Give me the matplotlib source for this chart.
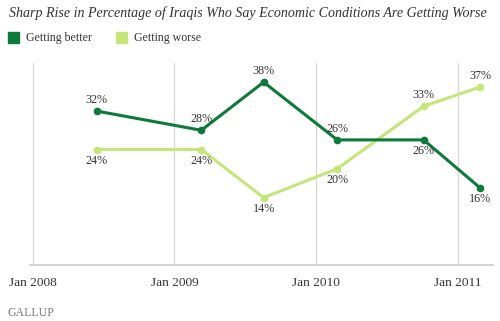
import matplotlib
matplotlib.use("Agg")
import matplotlib.pyplot as plt

# Survey dates (decimal years) and percentages
dates = [2008.45, 2009.19, 2009.63, 2010.15, 2010.76, 2011.16]
better = [32, 28, 38, 26, 26, 16]
worse = [24, 24, 14, 20, 33, 37]
tick_years = [2008, 2009, 2010, 2011]
tick_labels = ["Jan 2008", "Jan 2009", "Jan 2010", "Jan 2011"]

# label placement: +1 above the point, -1 below
better_side = [1, 1, 1, 1, -1, -1]
worse_side = [-1, -1, -1, -1, 1, 1]

DARK = "#0c7a38"
LIGHT = "#c3e57a"
TEXT = "#333333"
SERIF = ["Liberation Serif", "DejaVu Serif"]

fig = plt.figure(figsize=(5.0, 3.21), dpi=100)
fig.patch.set_facecolor("white")
ax = fig.add_axes([0.06, 0.1745, 0.926, 0.6295])
ax.set_xlim(2007.98, 2011.25)
ax.set_ylim(0, 42)

for s in ["top", "right", "left"]:
    ax.spines[s].set_visible(False)
ax.spines["bottom"].set_color("#cccccc")
ax.spines["bottom"].set_linewidth(1.2)

ax.set_yticks([])
ax.set_xticks(tick_years)
ax.set_xticklabels(tick_labels, fontsize=9.6, color=TEXT, family=SERIF)
ax.tick_params(axis="x", length=0, pad=9)
for yr in tick_years:
    ax.axvline(yr, color="#d6d6d6", lw=0.9, zorder=0)

ax.plot(dates, better, color=DARK, lw=2.2, marker="o", ms=4.5, zorder=3)
ax.plot(dates, worse, color=LIGHT, lw=2.2, marker="o", ms=4.5, zorder=2)

for x, v, s in zip(dates, better, better_side):
    ax.annotate(f"{v}%", (x, v), xytext=(0, 11 * s), textcoords="offset pixels",
                ha="center", va="center", fontsize=8.7, color=TEXT, family=SERIF)
for x, v, s in zip(dates, worse, worse_side):
    ax.annotate(f"{v}%", (x, v), xytext=(0, 11 * s), textcoords="offset pixels",
                ha="center", va="center", fontsize=8.7, color=TEXT, family=SERIF)

fig.text(0.018, 1 - 13.5 / 321,
         "Sharp Rise in Percentage of Iraqis Who Say Economic Conditions Are Getting Worse",
         fontsize=10.1, style="italic", color=TEXT, family=SERIF, va="center")

# legend
fig.patches.append(plt.Rectangle((8 / 500, 1 - 43 / 321), 11 / 500, 11 / 321,
                                 transform=fig.transFigure, color=DARK))
fig.text(26 / 500, 1 - 37.5 / 321, "Getting better", fontsize=8.6, color=TEXT,
         family=SERIF, va="center")
fig.patches.append(plt.Rectangle((116 / 500, 1 - 43 / 321), 11 / 500, 11 / 321,
                                 transform=fig.transFigure, color=LIGHT))
fig.text(134 / 500, 1 - 37.5 / 321, "Getting worse", fontsize=8.6, color=TEXT,
         family=SERIF, va="center")

fig.text(7 / 500, 1 - 313 / 321, "GALLUP", fontsize=8.6, color="#777777",
         family=SERIF, va="center")

fig.savefig("out.png", dpi=100, facecolor="white")
